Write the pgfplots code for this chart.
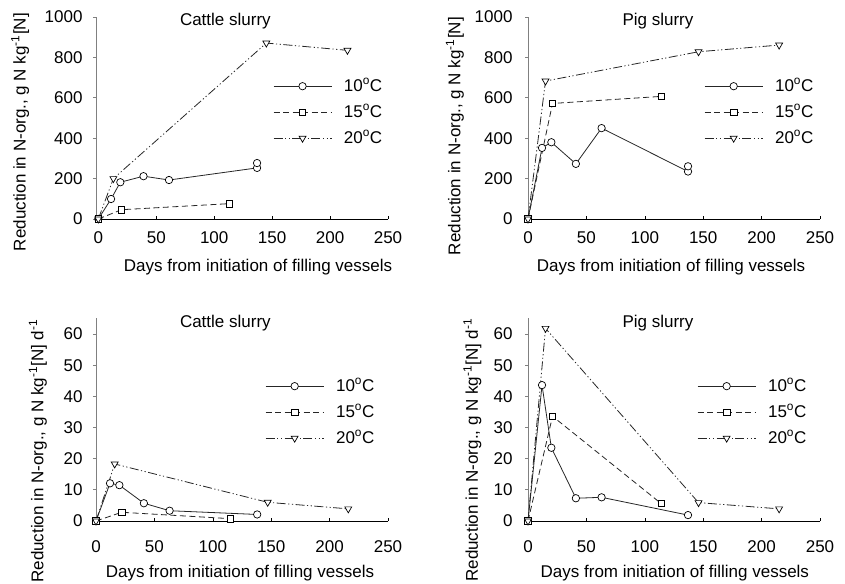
\documentclass[border=0pt]{standalone}
\usepackage{fontspec}
\setmainfont{Liberation Sans}
\usepackage{pgfplots}
\pgfplotsset{compat=1.18}

\newcommand{\fs}{\fontsize{17bp}{20bp}\selectfont}

\pgfplotsset{
  panel/.style={
    scale only axis, width=292bp, height=202bp,
    axis x line*=bottom, axis y line*=left,
    xmax=250, ymin=0,
    xtick={0,50,...,250},
    xtick align=inside, ytick align=outside,
    major tick length=3bp,
    x axis line style={black, line width=0.7bp},
    y axis line style={gray, line width=0.9bp},
    ytick style={gray, line width=0.8bp},
    xtick style={black, line width=0.6bp},
    tick label style={font=\fs},
    /pgf/number format/assume math mode=true,
    /pgf/number format/1000 sep={},
    label style={font=\fs},
    title style={font=\fs, anchor=center},
    xlabel={Days from initiation of filling vessels},
    legend cell align=left,
    legend style={draw=none, fill=none, inner sep=0pt, font=\fs,
      anchor=north west, row sep=10bp, column sep=12bp,
      nodes={inner sep=0pt, text height=13bp, text depth=3bp}},
    legend image code/.code={\draw[mark repeat=2,mark phase=2,##1]
      plot coordinates {(0bp,0bp)(29bp,0bp)(58bp,0bp)};},
    clip=false,
  },
  s10/.style={black!85, line width=0.8bp, mark=*, mark size=3.7bp,
    mark options={solid, fill=white, draw=black, line width=0.7bp}},
  s15/.style={black!85, line width=0.8bp, dash pattern=on 6bp off 3.5bp,
    mark=square*, mark size=3.2bp,
    mark options={solid, fill=white, draw=black, line width=0.7bp}},
  s20/.style={black!85, line width=0.8bp,
    dash pattern=on 9bp off 2.5bp on 1.2bp off 2.5bp on 1.2bp off 2.5bp,
    mark=triangle*, mark size=4bp,
    mark options={solid, fill=white, draw=black, rotate=180, line width=0.7bp}},
}

\begin{document}
\begin{tikzpicture}
\useasboundingbox (0,0) rectangle (845bp,-584bp);

% top left: cattle, total
\begin{axis}[panel, at={(96bp,-219bp)}, anchor=south west,
    xmin=-2, ymax=1000, ytick={0,200,...,1000},
    yticklabel style={xshift=-7bp}, xticklabel style={yshift=-9bp},
    title={Cattle slurry}, title style={at={(axis description cs:0.443,0.95)}},
    xlabel style={at={(axis description cs:0.555,0)}, anchor=center, yshift=-48bp},
    ylabel={Reduction in N-org., g N kg\textsuperscript{-1}[N]},
    ylabel style={at={(axis description cs:-0.26,0.43)}, anchor=center},
    legend style={at={(axis description cs:0.606,0.698)}}]
  \addplot[s10] coordinates {(0,0)(11,99)(19,182)(39,212)(61,193)(137,253)(137,277)};
  \addplot[s15] coordinates {(0,0)(20,46)(113,76)};
  \addplot[s20] coordinates {(0,0)(13,200)(145,871)(215,835)};
  \legend{10\textsuperscript{o}C, 15\textsuperscript{o}C, 20\textsuperscript{o}C}
\end{axis}

% top right: pig, total
\begin{axis}[panel, at={(528bp,-219bp)}, anchor=south west,
    xmin=0, ymax=1000, ytick={0,200,...,1000},
    yticklabel style={xshift=-9bp}, xticklabel style={yshift=-9bp},
    title={Pig slurry}, title style={at={(axis description cs:0.445,0.95)}},
    xlabel style={at={(axis description cs:0.49,0)}, anchor=center, yshift=-48bp},
    ylabel={Reduction in N-org., g N kg\textsuperscript{-1}[N]},
    ylabel style={at={(axis description cs:-0.25,0.41)}, anchor=center},
    legend style={at={(axis description cs:0.603,0.698)}}]
  \addplot[s10] coordinates {(0,0)(12,352)(20,380)(41,273)(63,450)(137,235)(137,261)};
  \addplot[s15] coordinates {(0,0)(21,572)(114,607)};
  \addplot[s20] coordinates {(0,0)(15,683)(146,828)(215,861)};
  \legend{10\textsuperscript{o}C, 15\textsuperscript{o}C, 20\textsuperscript{o}C}
\end{axis}

% bottom left: cattle, daily
\begin{axis}[panel, at={(96bp,-521bp)}, anchor=south west, height=202.6bp,
    xmin=0, ymax=65, ytick={0,10,...,60},
    yticklabel style={xshift=-7bp}, xticklabel style={yshift=-16bp},
    title={Cattle slurry}, title style={at={(axis description cs:0.443,0.948)}},
    xlabel style={at={(axis description cs:0.493,0)}, anchor=center, yshift=-52bp},
    ylabel={Reduction in N-org., g N kg\textsuperscript{-1}[N] d\textsuperscript{-1}},
    ylabel style={at={(axis description cs:-0.199,0.345)}, anchor=center},
    legend style={at={(axis description cs:0.579,0.706)}}]
  \addplot[s10] coordinates {(0,0)(12,12.1)(20,11.5)(41,5.7)(63,3.3)(138,2.1)};
  \addplot[s15] coordinates {(0,0)(22,2.8)(115,0.75)};
  \addplot[s20] coordinates {(0,0)(16,18.3)(147,6.0)(216,3.9)};
  \legend{10\textsuperscript{o}C, 15\textsuperscript{o}C, 20\textsuperscript{o}C}
\end{axis}

% bottom right: pig, daily
\begin{axis}[panel, at={(528bp,-521bp)}, anchor=south west, height=202.6bp,
    xmin=0, ymax=65, ytick={0,10,...,60},
    yticklabel style={xshift=-9bp}, xticklabel style={yshift=-16bp},
    title={Pig slurry}, title style={at={(axis description cs:0.445,0.948)}},
    xlabel style={at={(axis description cs:0.503,0)}, anchor=center, yshift=-52bp},
    ylabel={Reduction in N-org., g N kg\textsuperscript{-1}[N] d\textsuperscript{-1}},
    ylabel style={at={(axis description cs:-0.19,0.35)}, anchor=center},
    legend style={at={(axis description cs:0.579,0.706)}}]
  \addplot[s10] coordinates {(0,0)(12,43.6)(20,23.5)(41,7.3)(63,7.6)(137,1.9)};
  \addplot[s15] coordinates {(0,0)(21,33.6)(114,5.6)};
  \addplot[s20] coordinates {(0,0)(15,61.8)(146,5.9)(215,3.9)};
  \legend{10\textsuperscript{o}C, 15\textsuperscript{o}C, 20\textsuperscript{o}C}
\end{axis}
\end{tikzpicture}
\end{document}
